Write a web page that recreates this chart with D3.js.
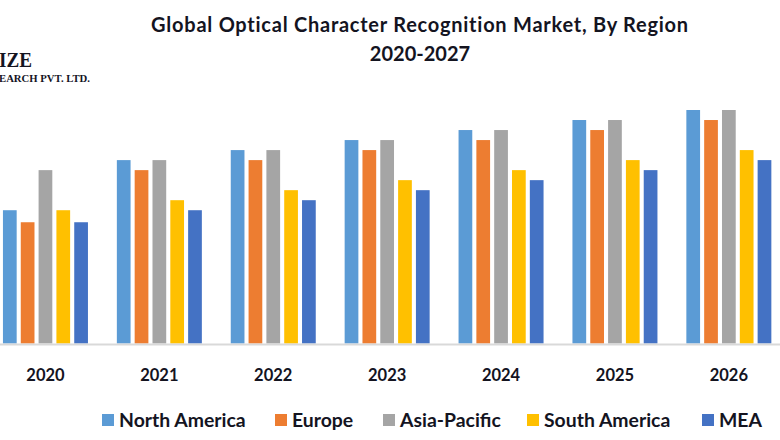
<!DOCTYPE html>
<html><head><meta charset="utf-8">
<script src="https://cdn.jsdelivr.net/npm/d3@7"></script>
<style>html,body{margin:0;padding:0;background:#fff}svg{display:block}text{font-family:Lato,"Open Sans",sans-serif;font-weight:700;fill:#14141f}</style>
</head><body><svg id="c" width="780" height="440"></svg>
<script>
const years = ["2020","2021","2022","2023","2024","2025","2026"];
const seriesNames = ["North America","Europe","Asia-Pacific","South America","MEA"];
const colors = ["#5B9BD5","#ED7D31","#A5A5A5","#FFC000","#4472C4"];
const northAmerica = [13.3,18.3,19.3,20.3,21.3,22.3,23.3];
const europe = [12.1,17.3,18.3,19.3,20.3,21.3,22.3];
const asiaPacific = [17.3,18.3,19.3,20.3,21.3,22.3,23.3];
const southAmerica = [13.3,14.3,15.3,16.3,17.3,18.3,19.3];
const mea = [12.1,13.3,14.3,15.3,16.3,17.3,18.3];
const seriesValues = [northAmerica,europe,asiaPacific,southAmerica,mea];

const svg = d3.select("#c");
const baseY = 343.5;
const x0 = d3.scaleBand().domain(years).range([-11.5,785.8]);
const x1 = d3.scaleBand().domain(seriesNames).range([x0.bandwidth()/2-42.5,x0.bandwidth()/2+42.5]).paddingInner(0.23).paddingOuter(0);
const y = d3.scaleLinear().domain([0,23.3]).range([baseY,110]);

seriesNames.forEach((s,i)=>{
  svg.append("g").selectAll("rect").data(seriesValues[i]).join("rect")
    .attr("x",(d,j)=>x0(years[j])+x1(s))
    .attr("width",x1.bandwidth())
    .attr("y",d=>y(d))
    .attr("height",d=>baseY-y(d))
    .attr("fill",colors[i]);
});

const ax = svg.append("g").attr("transform",`translate(0,${baseY+0.5})`).call(d3.axisBottom(x0).tickSize(0).tickPadding(25));
ax.select(".domain").attr("stroke","#d9d9d9").attr("stroke-width",2);
ax.selectAll("text").style("font-family","Lato,sans-serif").style("font-size","16.5px").style("font-weight","700").attr("fill","#14141f");

svg.append("text").attr("x",420).attr("y",32).attr("text-anchor","middle").style("font-size","20px").style("letter-spacing","0.75px").text("Global Optical Character Recognition Market, By Region");
svg.append("text").attr("x",420).attr("y",61).attr("text-anchor","middle").style("font-size","20px").text("2020-2027");

const legendX = [102,275,383,527,702];
const lg = svg.append("g");
seriesNames.forEach((s,i)=>{
  lg.append("rect").attr("x",legendX[i]).attr("y",414).attr("width",12).attr("height",12).attr("fill",colors[i]);
  lg.append("text").attr("x",legendX[i]+17).attr("y",427).style("font-size","19.4px").text(s);
});

svg.append("text").attr("x",-1).attr("y",66.5).style("font-family","'Liberation Serif',serif").style("font-size","22px").attr("textLength",33).attr("lengthAdjust","spacingAndGlyphs").text("IZE");
svg.append("text").attr("x",-1).attr("y",81.5).style("font-family","'Liberation Serif',serif").style("font-size","11px").attr("textLength",91).attr("lengthAdjust","spacingAndGlyphs").text("EARCH PVT. LTD.");
</script></body></html>
